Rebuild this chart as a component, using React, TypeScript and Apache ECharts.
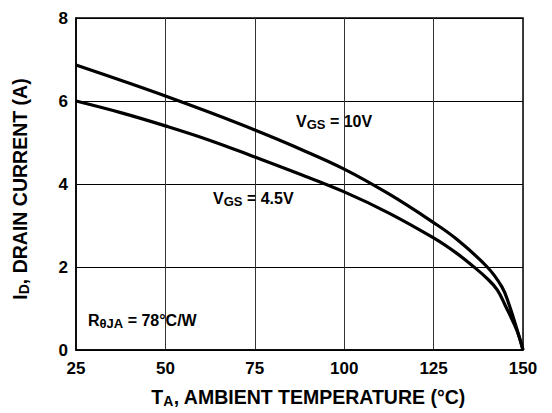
import React, { useEffect, useRef } from "react";
import * as echarts from "echarts";

const temps10V = [25, 37.5, 50, 62.5, 75, 87.5, 100, 112.5, 125, 131.3, 140, 144.1, 146, 148.3, 150];
const id10V = [6.87, 6.5, 6.12, 5.72, 5.3, 4.85, 4.36, 3.76, 3.07, 2.68, 2.0, 1.52, 1.12, 0.5, 0];
const temps45V = [25, 37.5, 50, 62.5, 75, 87.5, 100, 112.5, 125, 131.3, 136.3, 140, 142.8, 145, 148.3, 150];
const id45V = [6.0, 5.72, 5.4, 5.05, 4.65, 4.24, 3.81, 3.3, 2.7, 2.34, 2.0, 1.72, 1.45, 1.08, 0.47, 0];
const xTicks = [25, 50, 75, 100, 125, 150];
const yTicks = [0, 2, 4, 6, 8];

const FONT = "Liberation Sans, Arial, sans-serif";

export default function App() {
  const ref = useRef<HTMLDivElement>(null);
  useEffect(() => {
    if (!ref.current) return;
    const chart = echarts.init(ref.current, undefined, { renderer: "svg" });
    const pairs = (xs: number[], ys: number[]) => xs.map((t, i) => [t, ys[i]]);
    const labelRich = {
      m: { fontFamily: FONT, fontWeight: "bold", fontSize: 16, fill: "#000", lineHeight: 20 },
      s: { fontFamily: FONT, fontWeight: "bold", fontSize: 13, fill: "#000", lineHeight: 20, verticalAlign: "bottom", padding: [7, 0, 0, 0] },
    };
    chart.setOption({
      animation: false,
      backgroundColor: "#ffffff",
      grid: {
        left: 69,
        top: 18,
        right: 29,
        bottom: 63,
        show: true,
        borderColor: "#000",
        borderWidth: 1.5,
      },
      xAxis: {
        type: "value",
        min: 25,
        max: 150,
        interval: 25,
        axisLine: { show: true, lineStyle: { color: "#000", width: 1.5 } },
        axisTick: { show: false },
        splitLine: { show: true, lineStyle: { color: "#333", width: 1 } },
        axisLabel: {
          color: "#000",
          fontFamily: FONT,
          fontWeight: "bold",
          fontSize: 17,
          margin: 10,
          customValues: xTicks,
        },
        name: "{m|T}{s|A}{m|, AMBIENT TEMPERATURE (°C)}",
        nameLocation: "middle",
        nameGap: 36,
        nameTextStyle: {
          padding: [0, 0, 0, 18],
          rich: {
            m: { fontFamily: FONT, fontWeight: "bold", fontSize: 19.5, color: "#000", lineHeight: 22 },
            s: { fontFamily: FONT, fontWeight: "bold", fontSize: 14, color: "#000", verticalAlign: "bottom", lineHeight: 22, padding: [9, 0, 0, 0] },
          },
        },
      },
      yAxis: {
        type: "value",
        min: 0,
        max: 8,
        interval: 2,
        axisLine: { show: true, lineStyle: { color: "#000", width: 1.5 } },
        axisTick: { show: false },
        splitLine: { show: true, lineStyle: { color: "#000", width: 1 } },
        axisLabel: {
          color: "#000",
          fontFamily: FONT,
          fontWeight: "bold",
          fontSize: 17,
          margin: 8,
          customValues: yTicks,
        },
        name: "{m|I}{s|D}{m|, DRAIN CURRENT (A)}",
        nameLocation: "middle",
        nameGap: 45,
        nameTextStyle: {
          padding: [0, 10, 0, 0],
          rich: {
            m: { fontFamily: FONT, fontWeight: "bold", fontSize: 19.5, color: "#000", lineHeight: 22 },
            s: { fontFamily: FONT, fontWeight: "bold", fontSize: 14, color: "#000", verticalAlign: "bottom", lineHeight: 22, padding: [9, 0, 0, 0] },
          },
        },
      },
      series: [
        {
          name: "VGS = 10V",
          type: "line",
          data: pairs(temps10V, id10V),
          smooth: 0.4,
          showSymbol: false,
          lineStyle: { color: "#000", width: 3.2 },
        },
        {
          name: "VGS = 4.5V",
          type: "line",
          data: pairs(temps45V, id45V),
          smooth: 0.4,
          showSymbol: false,
          lineStyle: { color: "#000", width: 3.2 },
        },
      ],
      graphic: [
        {
          type: "text",
          left: 296,
          top: 111,
          style: { text: "{m|V}{s|GS}{m| = 10V}", rich: labelRich },
        },
        {
          type: "text",
          left: 213,
          top: 188,
          style: { text: "{m|V}{s|GS}{m| = 4.5V}", rich: labelRich },
        },
        {
          type: "text",
          left: 88,
          top: 310,
          style: { text: "{m|R}{s|θJA}{m| = 78°C/W}", rich: labelRich },
        },
      ],
    });
    return () => chart.dispose();
  }, []);
  return <div ref={ref} style={{ width: 552, height: 413, position: "absolute", left: 0, top: 0 }} />;
}
